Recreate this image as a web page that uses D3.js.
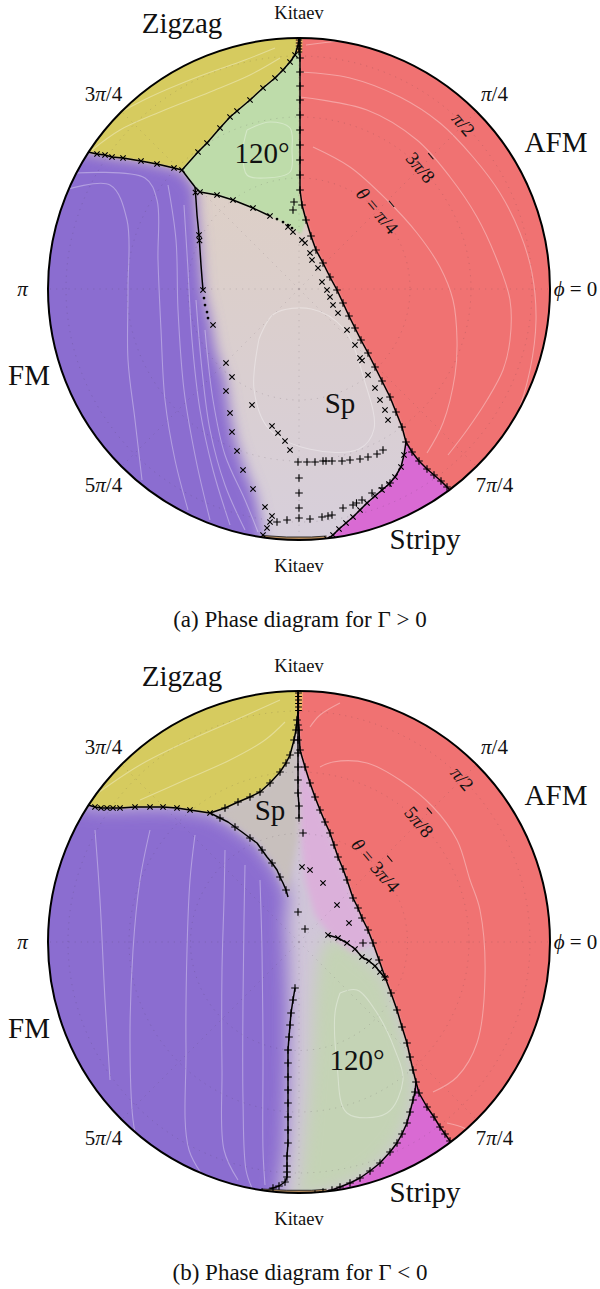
<!DOCTYPE html>
<html><head><meta charset="utf-8">
<script src="https://cdn.jsdelivr.net/npm/d3@7"></script>
<style>body{margin:0;background:#fff}svg{display:block}
text{font-family:'Liberation Serif','DejaVu Serif',serif;fill:#111}</style>
</head><body>
<svg id="c" width="600" height="1289"></svg>
<script>
// ================= DATA (projected coordinates, circle radius ≈ 100) =================
const angleTicks = [
  {phi:0, label:"ϕ = 0"}, {phi:0.25, label:"π/4"}, {phi:0.5, label:"Kitaev"}, {phi:0.75, label:"3π/4"},
  {phi:1, label:"π"}, {phi:1.25, label:"5π/4"}, {phi:1.5, label:"Kitaev"}, {phi:1.75, label:"7π/4"}
];
const ringLabelsA = [{label:"θ = π/4", r:44.4, tick:4}, {label:"3π/8", r:68.8, tick:-2}, {label:"π/2", r:93.2, tick:null}];
const ringLabelsB = [{label:"θ = 3π/4", r:43.4, tick:4}, {label:"5π/8", r:68.0, tick:-2}, {label:"π/2", r:92.4, tick:null}];

const phaseLabelsA = [
  {name:"Zigzag", u:-46.8, v:102.4}, {name:"AFM", u:102.8, v:54.8}, {name:"FM", u:-108, v:-38.4},
  {name:"Stripy", u:50.4, v:-104}, {name:"120°", u:-14.8, v:50.4}, {name:"Sp", u:16.4, v:-49.6}
];
const phaseLabelsB = [
  {name:"Zigzag", u:-46.8, v:102.4}, {name:"AFM", u:102.8, v:54.8}, {name:"FM", u:-108, v:-38.4},
  {name:"Stripy", u:50.4, v:-104}, {name:"120°", u:23.2, v:-51.2}, {name:"Sp", u:-11.6, v:48.8}
];

// ---------- (a) Γ > 0 : phase boundaries ----------
const zfLineA = [[-84.4,54.8],[-80.8,54],[-77.6,53.6],[-74.8,52.8],[-70.4,52.4],[-63.2,51.2],[-56.8,50],[-50,48.4],[-46.8,47.6]];
const z120LineA = [[-46.8,47.6],[-43.6,51.2],[-40.4,54.8],[-36.8,58.4],[-31.6,64.4],[-27.6,68.8],[-24.8,71.2],[-19.6,75.6],[-14.4,80.4],[-9.6,84.4],[-6.4,87.6],[-3.6,90.8],[-1.6,93.6],[-0.4,97.6],[0,100.4]];
const junctionA = [[-46.8,47.6],[-44.4,44.4],[-41.6,40.8]];
const fmSpLineA = [[-41.6,40.8],[-41.2,35.6],[-40.8,29.6],[-40,21.6],[-39.6,15.6],[-39.2,9.6],[-38.8,4.4],[-38.4,-0.4]];
const fmSpMarksA = [[-41.4,38.6],[-40,21.6],[-39.8,19.4],[-38.4,-0.4]];
const fmEdgeA = [[-35.6,-12.4],[-33.6,-24.4],[-29.6,-36.4],[-28,-48.4],[-25.6,-60.4],[-21.6,-72.4],[-17.6,-82.4],[-15.6,-92.4],[-14.4,-102.4]];
const s120LineA = [[-41.6,40.8],[-39.6,38.8],[-32.8,37.6],[-26.4,35.6],[-18.4,32.4],[-11.6,29.2]];
const s120DotsA = [[-8.8,28],[-6.4,26.8],[-4.4,25.6],[-2.8,24.4]];
const afmLineA = [[0.4,100.4],[0.4,92.4],[0.4,86.8],[0.4,81.2],[0.4,75.6],[0.4,69.6],[0.4,63.6],[0.4,57.6],[0.4,51.6],[0.4,45.6],[0.4,39.6],[1.2,33.6],[2.8,27.6],[4.8,21.2],[6.8,15.6],[9.6,10.4],[12.4,4.8],[15.2,-0.4],[17.6,-5.6],[20,-10.8],[22.4,-15.6],[24.8,-20.4],[27.6,-25.6],[30.4,-31.2],[33.2,-36.8],[36.4,-43.2],[38.8,-49.2],[41.2,-55.2],[42.8,-61.2]];
const afmStripyA = [[42.8,-61.2],[45.2,-65.2],[48,-68.8],[51.2,-72],[54,-74.4],[56.8,-76.8],[59.2,-79.2],[61.2,-81.2]];
const stripyLineA = [[42.8,-61.2],[42,-66.4],[40.8,-71.2],[38.4,-75.2],[36,-78],[33.2,-80.4],[30.4,-82.8],[27.2,-85.6],[24.4,-88.4],[21.6,-91.2],[18.8,-93.6],[16,-96],[13.6,-98.4],[11.2,-100]];
const xNearTopA = [[-4.4,24.8],[-2.4,22.8],[1.2,19.6],[2.4,18.4],[4.4,14.4],[5.2,11.6],[7.6,8.4]];
const plusNearTopA = [[-2,34.8],[-2.4,31.6]];
const xParA = [[9.2,2.8],[11.2,-0.4],[12.4,-3.2],[13.6,-6.4],[15.6,-9.6],[19.2,-16.4],[22.4,-22.4],[24.4,-27.6],[25.2,-28.6],[27.6,-34.4],[30.4,-39.6],[32.4,-44.4],[34.4,-48.4],[35.6,-52.4]];
const plusHorizA = [[-0.4,-69.2],[3.2,-69.2],[6.4,-69.2],[9.6,-68.8],[10.8,-68.8],[13.2,-68.8],[17.2,-68.8],[20.4,-68.4],[24.4,-68],[27.6,-67.2],[31.2,-66],[33.6,-64.4]];
const plusVertA = [[0,-75.6],[0,-81.6],[0,-87.6],[0,-91.6]];
const plusDiagA = [[-8.8,-93.2],[-4.8,-92.4],[4.4,-92],[9.2,-91.2],[11.6,-90.8],[13.2,-90.4],[17.6,-87.6],[21.6,-86.4],[23,-85.6],[25.2,-84.4],[29.2,-81.6],[33.2,-79.6],[36.4,-77.6]];
const xDiagA = [[-18.8,-46.4],[-10.8,-54.8],[-8.4,-57.6],[-5.6,-60.8],[-3.6,-64.4]];
const xFmA = [[-34.4,-14.4],[-29.2,-29.6],[-26.8,-35.2],[-29.2,-40.8],[-27.6,-49.6],[-26.8,-57.2],[-24.8,-64.8],[-22.4,-72.4],[-18.4,-80],[-13.6,-87.2],[-10.8,-90.8],[-11.6,-93.2],[-12.8,-95.6],[-14.4,-98.4]];
const dotsA = [[-38,-3.6],[-37.6,-6.4],[-36.8,-9.2],[-36.4,-11.6]];
const kitaevTopMarksA = [[0,99.6],[0,98.4],[0,97.2],[0,96],[0,94.8]];
const kitaevBottomA = [[-14.8,-99.2],[-5,-99.8],[5,-99.8],[11,-99.4]];

const contoursA = [
  [[0.4,86.8],[20.4,84.4],[40.4,76.8],[56.4,66.4],[69.6,52.8],[80.4,38.4],[88.4,22.4],[93.2,6.4],[94.8,-12.4],[92.4,-32.4],[86.4,-52.4],[78.4,-68.4],[71.6,-79.6]],
  [[0.4,76.8],[27.2,71.6],[47.2,59.6],[60.4,44.8],[71.2,28.8],[79.2,11.6],[84.4,-4.4],[84.4,-20.4],[81.6,-32.4],[75.2,-44.4],[67.2,-56.4],[59.6,-66.4]],
  [[5.6,56.8],[20.4,48.8],[35.2,35.6],[47.2,22.4],[56.4,8.8],[61.6,-4.4],[63.2,-20.4],[62.4,-34.4],[57.6,-53.6],[51.2,-65.6]],
  [[2.8,97.6],[12.4,98.8],[18.4,99.6]],
  [[-93.6,39.6],[-75.6,41.6],[-68.8,27.6],[-68.4,0],[-68.4,-28.4],[-65.6,-52.4],[-62.8,-76.4]],
  [[-89.6,46.4],[-61.6,44.4],[-56.8,35.6],[-56.4,11.6],[-55.2,-16.4],[-53.6,-44.4],[-49.6,-68.4],[-44.4,-88.4]],
  [[-52.4,41.6],[-49.2,19.6],[-48.4,-8.4],[-46,-40.4],[-41.2,-68.4],[-35.6,-92.4]],
  [[-46,33.6],[-44.4,7.6],[-42.8,-20.4],[-39.6,-48.4],[-34.4,-72.4],[-27.6,-94.4]],
  [[-41.2,-4.4],[-38.8,-32.4],[-35.6,-56.4],[-29.6,-78.4],[-21.6,-96.4]],
  [[-37.6,-16.4],[-34.4,-44.4],[-29.6,-66.4],[-21.6,-84.4],[-16.4,-97.2]],
  [[-82.8,55.6],[-71.6,63.6],[-55.6,70.8],[-35.6,78.8],[-19.6,85.6],[-7.6,92.4]],
  [[-75.6,68.4],[-59.6,76.8],[-39.6,85.2],[-21.6,91.6],[-9.6,96.4]],
  [[-20.8,63.6],[-11.6,66.8],[-3.6,64.4],[-2.8,55.6],[-3.6,46.8],[-13.6,44.4],[-20.8,45.6],[-22.4,55.6],[-20.8,63.6]],
  [[-16,-20],[-10,-10],[5,-8],[18,-16],[26,-36],[30,-56],[24,-64],[4,-64],[-12,-56],[-18,-40],[-16,-20]]
];

// ---------- (b) Γ < 0 : phase boundaries ----------
const zfLineB = [[-84.4,54.8],[-81.6,54],[-79.2,53.6],[-76.8,53.6],[-74.4,53.6],[-71.6,53.6],[-65.6,54],[-59.6,54],[-54.4,54],[-48.8,53.6],[-43.6,52.8],[-35.6,51.6]];
const zSpLineB = [[-35.6,51.6],[-29.6,53.6],[-24.4,56],[-19.6,58],[-15.6,60],[-11.6,63.6],[-7.6,68],[-5.2,71.6],[-3.6,74.8],[-2,80.8],[-1.2,84.8],[-0.8,88.8],[-0.4,92],[-0.4,96.8],[-0.4,100.8]];
const vertLineB = [[-0.4,92],[-0.4,86.8],[-0.4,80.8],[-0.4,75.6],[-0.4,70],[-0.4,64.8],[-0.4,59.6],[0,54.4],[0,49.6]];
const fmSpLineB = [[-35.6,51.6],[-31.6,49.6],[-28.4,48],[-25.6,46],[-22.8,44],[-19.6,41.6],[-16.8,39.6],[-14.8,36.8],[-12.8,34],[-10.8,31.6],[-8.8,28.8],[-7.6,26],[-6.4,23.6],[-5.2,20.8],[-4.4,18]];
const fmEdgeB = [[-5.6,8.8],[-4.8,-7.2],[-4.4,-23.2],[-4.4,-43.2],[-4.8,-63.2],[-5.6,-83.2],[-8.4,-103.2]];
const afmLineB = [[-0.4,100.8],[-0.4,92],[0,84.8],[0.4,76.8],[2.4,70],[4.4,63.6],[6.4,58],[8.4,52.8],[10.4,48],[12.4,43.6],[14,38.8],[15.6,34],[17.6,29.2],[19.2,24.8],[21.6,17.6],[23.6,13.6],[25.2,9.6],[27.6,4.8],[29.6,-0.4],[32,-7.2],[34.4,-14],[36.8,-20.4],[39.2,-27.2],[41.2,-34],[43.2,-40.4],[44.4,-46],[45.6,-51.2],[46.8,-56],[48,-60.4],[51.2,-66],[54,-70],[56.4,-74],[58.4,-76.8],[60.4,-79.6]];
const s120LineB = [[11.6,2.8],[15.6,1.6],[19.2,-0.4],[22.4,-2.8],[25.2,-6],[28,-7.6],[30.4,-9.6],[32.4,-12],[34.4,-14.4]];
const stripy120LineB = [[46.8,-56],[46.4,-60],[45.6,-63.2],[44.4,-68],[43.2,-72.4],[41.2,-76.8],[39.2,-80.4],[36.4,-84],[32.4,-88.4],[28.4,-91.6],[24.4,-94.4],[20.4,-96.4],[16.4,-98],[13.2,-99.2],[9.6,-100],[6.4,-100.8]];
const fm120LineB = [[-1.6,-18.4],[-2.4,-23.2],[-3.2,-28.4],[-3.6,-33.2],[-4,-38],[-4.4,-43.2],[-4.4,-48.4],[-4.4,-54],[-4.4,-59.2],[-4.4,-64.4],[-4.4,-70],[-4.4,-75.2],[-4.4,-80.4],[-4.8,-85.6],[-4.8,-89.6],[-4.8,-92],[-4.8,-94],[-5.6,-96],[-8,-97.6],[-10.4,-98.4],[-14.8,-100]];
const edge120B = [[-2,-104],[0.4,-95.2],[2.8,-71.2],[4.8,-47.2],[6,-23.2],[7.6,-7.2]];
const xMidB = [[1.2,30],[4.4,28.8],[9.6,23.6],[15.2,14.8],[20,7.6]];
const plusMidB = [[1.6,43.6],[-0.4,12],[2.4,5.2],[25.6,-0.4]];
const kitaevTopMarksB = [[-0.2,99.6],[-0.2,98.2],[-0.2,96.8],[-0.2,95.4],[-0.2,94],[-0.2,92.6]];
const kitaevBottomB = [[-14.8,-99.4],[-5,-99.9],[5,-99.9],[11,-99.5]];

const contoursB = [
  [[8.4,70],[13.6,72],[27.2,71.6],[40.4,64.8],[53.6,54],[63.2,40.8],[68.4,24.8],[72.4,12.8],[74.4,-14],[71.2,-40.4],[63.2,-54],[53.6,-60]],
  [[16.4,95.6],[8.4,90.8],[4.4,86]],
  [[59.2,-72.4],[66,-74.4],[71,-78]],
  [[-81.6,44.8],[-79.6,16.8],[-77.6,-23.2],[-75.6,-55.2]],
  [[-59.6,44.8],[-63.6,24.8],[-66.4,-3.2],[-67.6,-39.2],[-66.4,-71.2],[-62.8,-89.2]],
  [[-41.6,42.8],[-43.6,24.8],[-44.8,-3.2],[-45.2,-43.2],[-44,-83.2],[-35.6,-97.2]],
  [[-29.6,36.8],[-30,16.8],[-30.8,-11.2],[-30.8,-51.2],[-30,-83.2],[-24.4,-95.2]],
  [[-21.6,30.8],[-22,8.8],[-22.4,-23.2],[-22.4,-63.2],[-21.2,-91.2],[-18.8,-98.4]],
  [[-15.6,24.8],[-14.8,-3.2],[-14.4,-43.2],[-14.4,-83.2],[-13.6,-97.2]],
  [[-81.6,58.8],[-63.6,70.8],[-43.6,80.8],[-23.6,89.6],[-7.6,96.8]],
  [[-63.6,56.8],[-45.6,64.8],[-27.6,72.8],[-13.6,80.8],[-5.6,88]],
  [[16.4,-20.4],[23.2,-19.2],[31.2,-28.4],[38.4,-43.2],[41.6,-55.2],[35.2,-68.4],[19.2,-68.4],[15.2,-48.4],[14.4,-28.4],[16.4,-20.4]]
];

// ================= DRAWING =================
const CX = 299, R = 251;
const colors = {afm:"#f07272", fm:"#8b6dd0", zig:"#d6cb5e", g120a:"#bedcaa", g120b:"#c4d3b5",
  stripy:"#d96bd3", kit:"#f2b76a", spGray:"#c8c0bd", pink:"#dbb0da", bgB:"#d0c6d8"};
const svg = d3.select("#c");
const defs = svg.append("defs");
function blur(id, s){ defs.append("filter").attr("id",id).attr("x","-50%").attr("y","-50%").attr("width","200%").attr("height","200%")
  .append("feGaussianBlur").attr("stdDeviation", s); }
blur("b1",1.2); blur("b3",3); blur("bFMa",7); blur("bFMb",9); blur("b120",8);
const gradA = defs.append("linearGradient").attr("id","spA").attr("x1",0).attr("y1",0).attr("x2",0).attr("y2",1);
gradA.append("stop").attr("offset","0%").attr("stop-color","#dfd0c2");
gradA.append("stop").attr("offset","45%").attr("stop-color","#dccfca");
gradA.append("stop").attr("offset","100%").attr("stop-color","#d7cfdb");

const OUT = 130;
const rev = a => a.slice().reverse();
const phiScale = d3.scaleLinear().domain([0,2]).range([0, 2*Math.PI]);

function rich(sel, str){
  str.split(/([θπϕ])/).forEach(p=>{ if(!p) return; const t = sel.append("tspan").text(p); if(/[θπϕ]/.test(p)) t.style("font-style","italic"); });
}

function drawChart(cfg){
  const g = svg.append("g");
  const x = d3.scaleLinear().domain([-100,100]).range([CX-250, CX+250]);
  const y = d3.scaleLinear().domain([-100,100]).range([cfg.cy+250, cfg.cy-250]);
  const line = d3.line().x(d=>x(d[0])).y(d=>y(d[1]));
  const smooth = d3.line().x(d=>x(d[0])).y(d=>y(d[1])).curve(d3.curveCatmullRom.alpha(0.5));
  defs.append("clipPath").attr("id","clip"+cfg.id).append("circle").attr("cx",CX).attr("cy",cfg.cy).attr("r",R);
  const inner = g.append("g").attr("clip-path",`url(#clip${cfg.id})`);
  inner.append("circle").attr("cx",CX).attr("cy",cfg.cy).attr("r",R).attr("fill",cfg.bg);
  cfg.regions.forEach(r=>{
    inner.append("path").attr("d", line(r.pts)+"Z").attr("fill", r.color).attr("filter", r.blur?`url(#${r.blur})`:null);
  });
  const grid = inner.append("g").attr("stroke","rgba(70,60,70,0.22)").attr("stroke-width",0.8).attr("stroke-dasharray","1.2,5").attr("fill","none");
  d3.range(0,2,0.25).forEach(p=>{
    const a = phiScale(p);
    grid.append("line").attr("x1",x(0)).attr("y1",y(0)).attr("x2",x(100.4*Math.cos(a))).attr("y2",y(100.4*Math.sin(a)));
  });
  cfg.rings.forEach(rg=> grid.append("circle").attr("cx",x(0)).attr("cy",y(0)).attr("r",x(rg.r)-x(0)));
  inner.append("g").selectAll("path").data(cfg.contours).join("path")
    .attr("d", d=>smooth(d)).attr("fill","none").attr("stroke","rgba(255,255,255,0.34)").attr("stroke-width",1.1);
  const lg = inner.append("g").attr("fill","none").attr("stroke","#000").attr("stroke-width",1.5).attr("stroke-linejoin","round");
  cfg.lines.forEach(l=> lg.append("path").attr("d", line(l)));
  inner.append("path").attr("d", line(cfg.kitBottom)).attr("fill","none").attr("stroke","#b48a5a").attr("stroke-width",3);
  inner.append("path").attr("d", line(cfg.kitBottom.map(d=>[d[0],d[1]+0.6]))).attr("fill","none").attr("stroke","#222").attr("stroke-width",0.9);
  const mg = inner.append("g").attr("stroke","#000").attr("stroke-width",1.15).attr("fill","none");
  cfg.marks.forEach(m=>{
    const s = m.size || 3.8;
    mg.selectAll(null).data(m.pts).join("path")
      .attr("transform", d=>`translate(${x(d[0])},${y(d[1])})${m.type==="x"?" rotate(45)":""}`)
      .attr("d", m.type==="dot" ? "M-0.8,0a0.8,0.8 0 1,0 1.6,0a0.8,0.8 0 1,0 -1.6,0" : `M${-s},0H${s}M0,${-s}V${s}`)
      .attr("fill", m.type==="dot"?"#000":"none");
  });
  g.append("circle").attr("cx",CX).attr("cy",cfg.cy).attr("r",R).attr("fill","none").attr("stroke","#000").attr("stroke-width",2);
  cfg.rings.forEach(rg=>{
    const a = Math.PI/4, px = x(rg.r*Math.cos(a)), py = y(rg.r*Math.sin(a));
    const tg = g.append("g").attr("transform",`translate(${px},${py}) rotate(50)`);
    const t = tg.append("text").attr("text-anchor","middle").attr("dy","0.35em").style("font-size","19px");
    rich(t, rg.label);
    if(rg.tick!==null) tg.append("line").attr("x1",rg.tick-4).attr("x2",rg.tick+4).attr("y1",-15).attr("y2",-15).attr("stroke","#111").attr("stroke-width",1.1);
  });
  angleTicks.forEach(tk=>{
    const a = phiScale(tk.phi), rr = 110.6;
    const t = g.append("text").attr("x", x(rr*Math.cos(a))).attr("y", y(rr*Math.sin(a))).attr("dy","0.35em")
      .attr("text-anchor","middle").style("font-size", tk.label==="Kitaev"?"18.5px":"21px");
    rich(t, tk.label);
  });
  g.selectAll(null).data(cfg.phaseLabels).join("text")
    .attr("x", d=>x(d.u)).attr("y", d=>y(d.v)).attr("text-anchor","middle")
    .style("font-size","29px").text(d=>d.name);
  g.append("text").attr("x",300).attr("y",cfg.cy+338).attr("text-anchor","middle")
    .style("font-size","23px").text(cfg.caption);
}

drawChart({
  id:"a", cy:289, bg:"url(#spA)", caption:"(a) Phase diagram for Γ > 0",
  rings: ringLabelsA, phaseLabels: phaseLabelsA, contours: contoursA, kitBottom: kitaevBottomA,
  regions:[
    {color:colors.fm, blur:"bFMa", pts:[[-OUT,55.6],[-91.6,55.6],...zfLineA,...junctionA,...fmSpLineA,...fmEdgeA,[-14,-OUT],[-OUT,-OUT]]},
    {color:colors.zig, blur:"b1", pts:[[-95,55.6],...zfLineA,...z120LineA,[0,OUT],[-OUT,OUT],[-OUT,55.6]]},
    {color:colors.g120a, blur:"b1", pts:[...z120LineA,...afmLineA.slice(0,13),[0.8,22],...rev(s120DotsA),...rev(s120LineA),...rev(junctionA)]},
    {color:colors.stripy, blur:"b1", pts:[...stripyLineA,[10,-OUT],[OUT,-OUT],[OUT,-61]]},
    {color:colors.afm, blur:"b1", pts:[[0.4,OUT],...afmLineA,...afmStripyA,[75,-100],[OUT,-OUT],[OUT,OUT]]},
    {color:colors.kit, pts:[[-1.8,106],[1.8,106],[1.2,94.4],[-0.8,94.4]]}
  ],
  lines:[zfLineA, z120LineA, junctionA, fmSpLineA, s120LineA, afmLineA, afmStripyA, stripyLineA],
  marks:[
    {type:"x", pts:zfLineA.slice(1)}, {type:"x", pts:z120LineA.slice(2,13)}, {type:"x", pts:fmSpMarksA},
    {type:"x", pts:s120LineA.slice(1)}, {type:"dot", pts:s120DotsA}, {type:"+", pts:afmLineA.slice(1)},
    {type:"+", pts:afmStripyA.slice(1)}, {type:"x", pts:stripyLineA.slice(1)},
    {type:"x", pts:xNearTopA}, {type:"+", pts:plusNearTopA}, {type:"x", pts:xParA},
    {type:"+", pts:plusHorizA}, {type:"+", pts:plusVertA}, {type:"+", pts:plusDiagA},
    {type:"x", pts:xDiagA}, {type:"x", pts:xFmA}, {type:"dot", pts:dotsA},
    {type:"+", pts:kitaevTopMarksA, size:3.2}
  ]
});

drawChart({
  id:"b", cy:942, bg:colors.bgB, caption:"(b) Phase diagram for Γ < 0",
  rings: ringLabelsB, phaseLabels: phaseLabelsB, contours: contoursB, kitBottom: kitaevBottomB,
  regions:[
    {color:colors.fm, blur:"bFMb", pts:[[-OUT,54.8],[-95,54.8],...zfLineB,...fmSpLineB,...fmEdgeB,[-9,-OUT],[-OUT,-OUT]]},
    {color:colors.g120b, blur:"b120", pts:[...s120LineB,...afmLineB.slice(20,28),...stripy120LineB,...edge120B]},
    {color:colors.pink, blur:"b3", pts:[...afmLineB.slice(1,19),[22,-4],[12.4,2.8],[6.4,10.8],[2.4,24.8],[0.8,40.8],...rev(vertLineB)]},
    {color:colors.spGray, blur:"b3", pts:[...zSpLineB.slice(0,12),...vertLineB,[-0.4,40.8],[-2.8,28.8],...rev(fmSpLineB)]},
    {color:colors.zig, blur:"b1", pts:[[-95,54.8],...zfLineB,...zSpLineB,[-0.4,OUT],[-OUT,OUT],[-OUT,54.8]]},
    {color:colors.stripy, blur:"b1", pts:[...stripy120LineB,[6,-OUT],[OUT,-OUT],[OUT,-56]]},
    {color:colors.afm, blur:"b1", pts:[[-0.4,OUT],...afmLineB,[68,-90],[OUT,-OUT],[OUT,OUT]]},
    {color:colors.kit, pts:[[-1.8,106],[1.8,106],[1.2,92.4],[-1,92.4]]}
  ],
  lines:[zfLineB, zSpLineB, vertLineB, fmSpLineB, afmLineB, s120LineB, stripy120LineB, fm120LineB],
  marks:[
    {type:"x", pts:zfLineB.slice(1)}, {type:"+", pts:zSpLineB.slice(1,12)}, {type:"+", pts:vertLineB.slice(1)},
    {type:"+", pts:fmSpLineB.filter((d,i)=>i%2===1)}, {type:"+", pts:afmLineB.slice(2)},
    {type:"x", pts:s120LineB}, {type:"+", pts:stripy120LineB.slice(1)}, {type:"+", pts:fm120LineB},
    {type:"x", pts:xMidB}, {type:"+", pts:plusMidB}, {type:"+", pts:kitaevTopMarksB, size:3.4}
  ]
});
</script>
</body></html>
